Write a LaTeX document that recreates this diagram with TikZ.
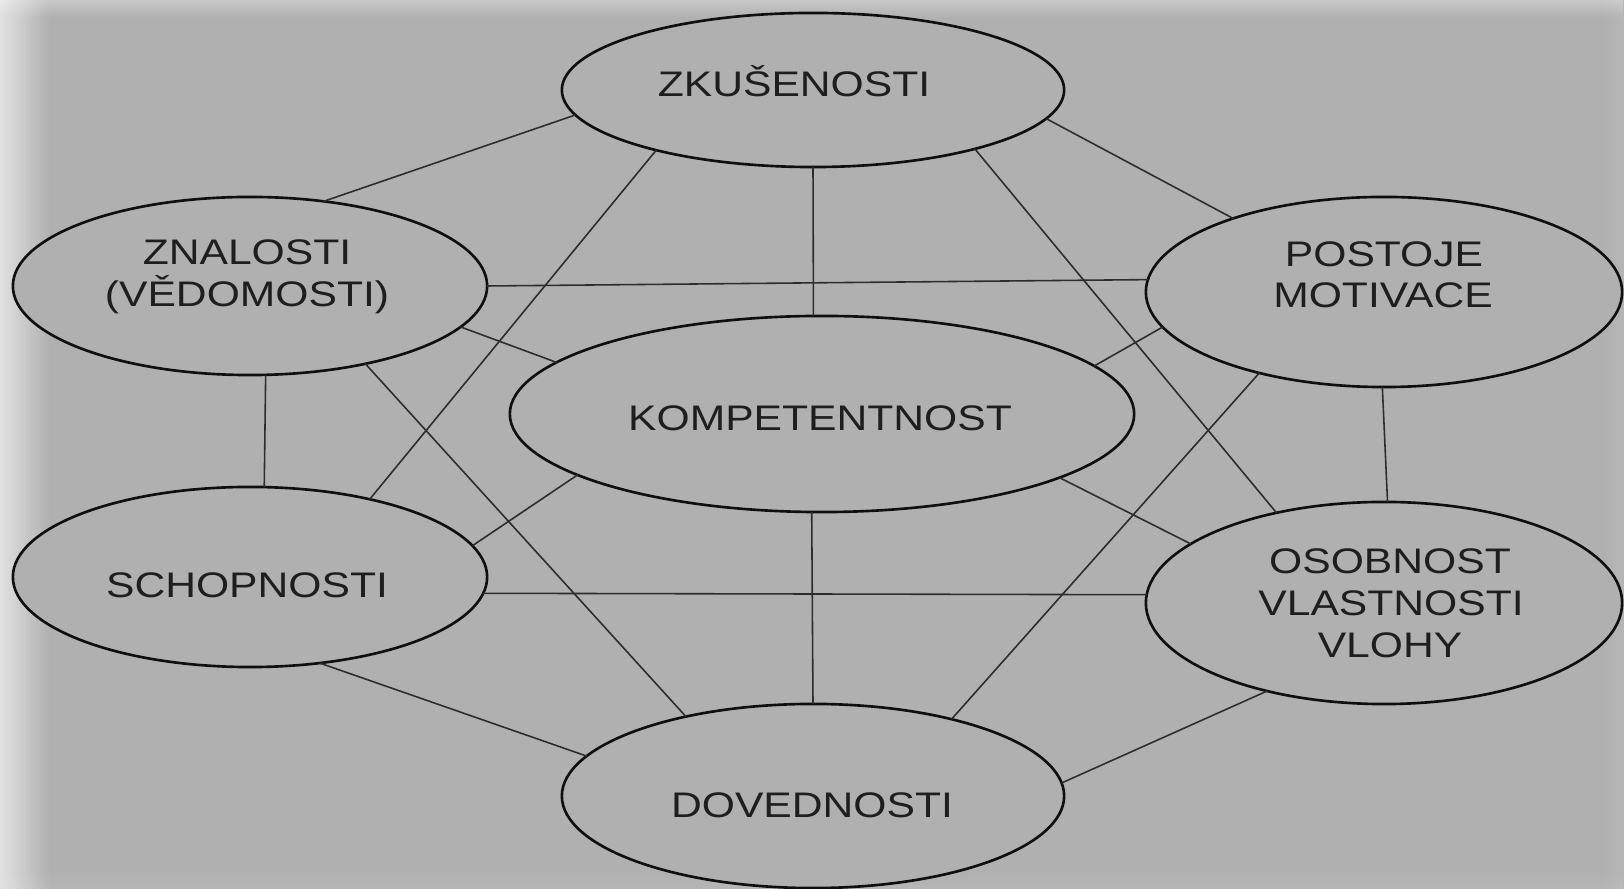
\documentclass[tikz,border=0pt]{standalone}
\usepackage{fontspec}
\setmainfont{Liberation Sans}[FakeStretch=1.2]
\usetikzlibrary{shapes.geometric,fadings}
\definecolor{bg}{RGB}{176,176,176}
\definecolor{edgec}{RGB}{45,45,45}
\definecolor{rim}{RGB}{15,15,15}
\definecolor{ink}{RGB}{30,30,30}
\tikzfading[name=fadeR, left color=transparent!37, right color=transparent!100]
\tikzfading[name=fadeD, top color=transparent!70, bottom color=transparent!100]
\tikzfading[name=fadeU, bottom color=transparent!92, top color=transparent!100]
\tikzfading[name=fadeL, right color=transparent!92, left color=transparent!100]
\begin{document}
\begin{tikzpicture}[x=0.01cm,y=-0.01cm,
  ell/.style={ellipse, draw=rim, line width=0.75pt, fill=bg, inner sep=0pt, outer sep=0pt},
  lbl/.style={anchor=base, inner sep=0pt, text=ink, font=\fontsize{10.1}{12}\selectfont},
  link/.style={draw=edgec, line width=0.45pt}]
\useasboundingbox (0,0) rectangle (1624,889);
% background with soft edges
\fill[bg] (0,0) rectangle (1624,889);
\fill[white, path fading=fadeD] (0,0) rectangle (1624,18);
\fill[white, path fading=fadeU] (0,869) rectangle (1624,889);
\fill[white, path fading=fadeL] (1600,0) rectangle (1624,889);
\fill[white, path fading=fadeR] (0,0) rectangle (50,889);
% ellipses
\node[ell, minimum width=5.02cm, minimum height=1.54cm] (zk)   at (813,90)  {};
\node[ell, minimum width=4.74cm, minimum height=1.78cm] (zn)   at (250,286) {};
\node[ell, minimum width=4.76cm, minimum height=1.90cm] (post) at (1384,292) {};
\node[ell, minimum width=6.24cm, minimum height=1.96cm] (komp) at (822,414) {};
\node[ell, minimum width=4.74cm, minimum height=1.80cm] (sch)  at (250,577) {};
\node[ell, minimum width=4.76cm, minimum height=2.02cm] (osob) at (1384,603) {};
\node[ell, minimum width=5.02cm, minimum height=1.84cm] (dov)  at (813,796) {};
% texts
\node[lbl] (zk-t)  at (794,97)  {ZKUŠENOSTI};
\node[lbl] (zn-t1) at (247,265) {ZNALOSTI};
\node[lbl] (zn-t2) at (247,307) {(VĚDOMOSTI)};
\node[lbl] (po-t1) at (1384,267) {POSTOJE};
\node[lbl] (po-t2) at (1383,308) {MOTIVACE};
\node[lbl] (ko-t)  at (820,431) {KOMPETENTNOST};
\node[lbl] (sc-t)  at (247,598) {SCHOPNOSTI};
\node[lbl] (os-t1) at (1390,574) {OSOBNOST};
\node[lbl] (os-t2) at (1391,616) {VLASTNOSTI};
\node[lbl] (os-t3) at (1390,658) {VLOHY};
\node[lbl] (do-t)  at (812,818) {DOVEDNOSTI};
% connectors
\draw[link] (zk.186.9) -- (zn.49.5);
\draw[link] (zk.201.1) -- (sch.33.8);
\draw[link] (zk.270) -- (komp.95.8);
\draw[link] (zk.353.3) -- (post.154);
\draw[link] (zk.340) -- (osob.140.7);
\draw[link] (zn.0) -- (post.177.6);
\draw[link] (zn.349.1) -- (komp.169.2);
\draw[link] (zn.280.8) -- (sch.81.2);
\draw[link] (zn.326.2) -- (dov.148.4);
\draw[link] (post.189.1) -- (komp.10.7);
\draw[link] (post.269) -- (osob.88.9);
\draw[link] (post.213.4) -- (dov.29.2);
\draw[link] (komp.194.7) -- (sch.8.9);
\draw[link] (komp.345.3) -- (osob.163.5);
\draw[link] (komp.264.8) -- (dov.90);
\draw[link] (sch.356.1) -- (osob.178.6);
\draw[link] (sch.309.9) -- (dov.170.6);
\draw[link] (osob.217.4) -- (dov.3.4);
\end{tikzpicture}
\end{document}
